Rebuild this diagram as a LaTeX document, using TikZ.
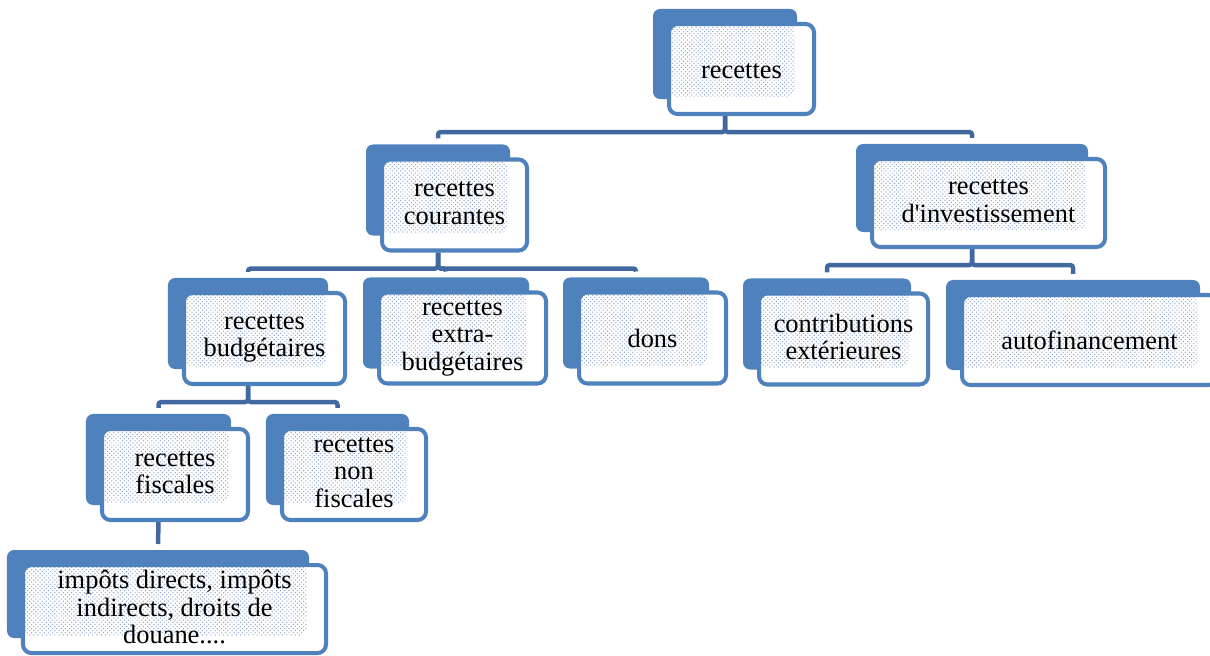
\documentclass[tikz,border=0pt]{standalone}
\usepackage{fontspec}
\setmainfont{Liberation Serif}
\newfontfamily\policecadre{Liberation Serif}
\usetikzlibrary{backgrounds,patterns}
\definecolor{bleu}{RGB}{79,129,189}
\definecolor{bleufonce}{RGB}{65,105,160}
\definecolor{pointille}{RGB}{140,165,205}
\newcommand\etai{\rule[-3pt]{0pt}{19.8pt}}

\begin{document}
\begin{tikzpicture}[x=0.025cm,y=-0.025cm,
        cadre/.style 2 args={draw=bleu, line width=2.85pt, fill=white, rounded corners=6pt,
            minimum width=#1*0.025cm, minimum height=#2*0.025cm, inner sep=0pt, align=center,
            font=\policecadre\fontsize{18.8pt}{19.6pt}\selectfont,
            execute at begin node=\etai, execute at end node=\etai,
            path picture={\fill[pattern=crosshatch dots, pattern color=pointille]
                (path picture bounding box.north west) rectangle
                ([shift={(-19,-17)}]path picture bounding box.south east);}},
        fond/.style={fill=bleu, rounded corners=5pt},
        lien/.style={draw=bleufonce, line width=3.2pt, rounded corners=2pt}]
        \useasboundingbox (0,0) rectangle (1210,656);
        \clip (0,0) rectangle (1210,656);
        % boites
        \node[cadre={145}{90}] (rec) at (741.5,69) {recettes};
        \node[cadre={145}{91}] (cour) at (454.5,205) {recettes\\courantes};
        \node[cadre={233}{88}] (inv) at (988.5,203) {recettes\\d'investissement};
        \node[cadre={161}{91}] (budg) at (264.5,338.5) {recettes\\budgétaires};
        \node[cadre={167}{91}] (extra) at (462.5,338) {recettes\\extra-\\budgétaires};
        \node[cadre={147}{91}] (dons) at (652.5,338) {dons};
        \node[cadre={169}{91}] (contr) at (843.5,339) {contributions\\extérieures};
        \node[cadre={255}{90}] (auto) at (1089.5,340) {autofinancement};
        \node[cadre={146}{91}] (fisc) at (175,474.5) {recettes\\fiscales};
        \node[cadre={144}{91}] (nonfisc) at (354,474.5) {recettes\\non\\fiscales};
        \node[cadre={303}{88}] (imp) at (174.5,609) {impôts directs, impôts\\indirects, droits de\\douane....};
        % fonds et liens
        \begin{scope}[on background layer]
            \foreach \n in {rec,cour,inv,budg,extra,dons,contr,auto,fisc,nonfisc,imp}
                \fill[fond] ([shift={(-14,-13)}]\n.north west) rectangle ([shift={(-19,-17)}]\n.south east);
            \draw[lien] ([shift={(-16.5,0)}]rec.south) -- ++(0,16) -| ([shift={(-16.5,-19)}]cour.north);
            \draw[lien] ([shift={(-16.5,0)}]rec.south) -- ++(0,16) -| ([shift={(-16.5,-19)}]inv.north);
            \draw[lien] ([shift={(-16.5,0)}]cour.south) -- ++(0,16) -| ([shift={(-16.5,-19)}]budg.north);
            \draw[lien] ([shift={(-16.5,0)}]cour.south) -- ++(0,16) -| ([shift={(-16.5,-19)}]extra.north);
            \draw[lien] ([shift={(-16.5,0)}]cour.south) -- ++(0,16) -| ([shift={(-16.5,-19)}]dons.north);
            \draw[lien] ([shift={(-16.5,0)}]inv.south) -- ++(0,16) -| ([shift={(-16.5,-19)}]contr.north);
            \draw[lien] ([shift={(-16.5,0)}]inv.south) -- ++(0,16) -| ([shift={(-16.5,-19)}]auto.north);
            \draw[lien] ([shift={(-16.5,0)}]budg.south) -- ++(0,16) -| ([shift={(-16.5,-19)}]fisc.north);
            \draw[lien] ([shift={(-16.5,0)}]budg.south) -- ++(0,16) -| ([shift={(-16.5,-19)}]nonfisc.north);
            \draw[lien] ([shift={(-16.5,0)}]fisc.south) -- ([shift={(-16.5,-19)}]imp.north);
        \end{scope}
\end{tikzpicture}
\end{document}
